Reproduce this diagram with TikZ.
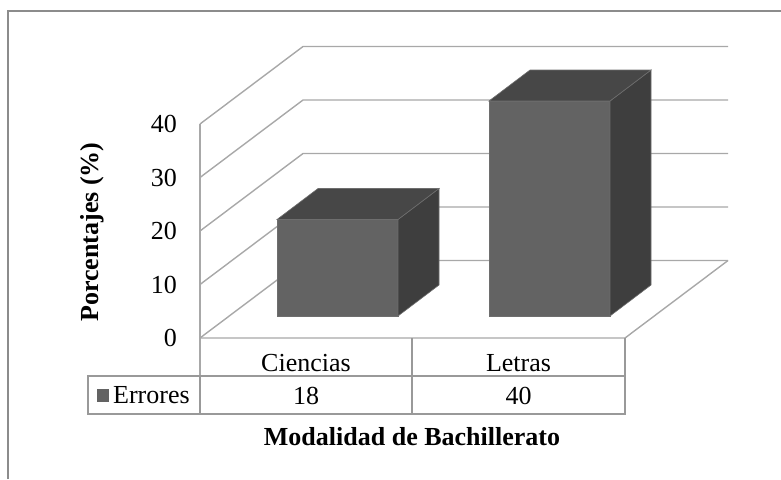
\documentclass[tikz,border=0pt]{standalone}
\usepackage{fontspec}
\setmainfont{Liberation Serif}
\begin{document}
\begin{tikzpicture}[x=1pt,y=-1pt,
  grid/.style={draw=gridgray,line width=1.4pt},
  frameline/.style={draw=framegray,line width=1.2pt},
  tbl/.style={draw=tblgray,line width=1.3pt},
  front/.style={fill=frontgray,draw=edgegray,line width=0.6pt},
  topf/.style={fill=topgray,draw=edgegray,line width=0.6pt},
  side/.style={fill=sidegray,draw=edgegray,line width=0.6pt},
  txt/.style={font=\fontsize{26}{30}\selectfont,inner sep=0pt},
  btxt/.style={font=\fontsize{26}{30}\selectfont\bfseries,inner sep=0pt}]
\definecolor{gridgray}{HTML}{A8A8A8}
\definecolor{framegray}{HTML}{8C8C8C}
\definecolor{tblgray}{HTML}{999999}
\definecolor{frontgray}{HTML}{636363}
\definecolor{topgray}{HTML}{474747}
\definecolor{sidegray}{HTML}{3E3E3E}
\definecolor{edgegray}{HTML}{6E6E6E}
\useasboundingbox (0,0) rectangle (781,479);
% outer frame
\draw[frameline] (8,479) -- (8,11) -- (782,11);
% walls and grid
\foreach \k/\yf in {0/338,1/284.5,2/231,3/177.5,4/124}{
  \coordinate (f\k) at (200,\yf);
  \coordinate (b\k) at (303,\yf-77.5);
  \coordinate (r\k) at (728,\yf-77.5);
  \draw[grid] (f\k) -- (b\k) -- (r\k);
}
\coordinate (fr) at (625,338);
\draw[grid] (f0) -- (fr) -- (r0);
\coordinate (tb) at (200,414);
\draw[grid] (f4) -- (tb);
% tick labels
\foreach \k/\v in {0/0,1/10,2/20,3/30,4/40}{
  \node[txt,anchor=east] (t\k) at ([xshift=-23pt]f\k) {\v};
}
% bars
\newcommand{\mybar}[3]{%
  % #1 left x, #2 right x, #3 top y
  \fill[front] (#1,316) rectangle (#2,#3);
  \fill[side] (#2,316) -- (#2+41,285) -- (#2+41,#3-31) -- (#2,#3) -- cycle;
  \fill[topf] (#1,#3) -- (#1+41,#3-31) -- (#2+41,#3-31) -- (#2,#3) -- cycle;
}
\mybar{277}{398}{219.5}
\mybar{489}{610}{101}
% table
\coordinate (c1) at (412,338);
\draw[tbl] (c1) -- (412,414);
\draw[tbl] (fr) -- (625,414);
\draw[tbl] (88,376) rectangle (625,414);
\draw[tbl] (200,376) -- (200,414);
\node[txt] (cien) at (306,363) {Ciencias};
\node[txt] (letr) at (518.5,363) {Letras};
\node[txt] (v18) at (306,396) {18};
\node[txt] (v40) at (518.5,396) {40};
\fill[frontgray] (97,389) rectangle (109,402);
\node[txt,anchor=west] (err) at (113,395.5) {Errores};
% axis titles
\node[btxt] (xt) at (412,437) {Modalidad de Bachillerato};
\node[btxt,rotate=90] (yt) at (92,232) {Porcentajes (\%)};
\end{tikzpicture}
\end{document}
